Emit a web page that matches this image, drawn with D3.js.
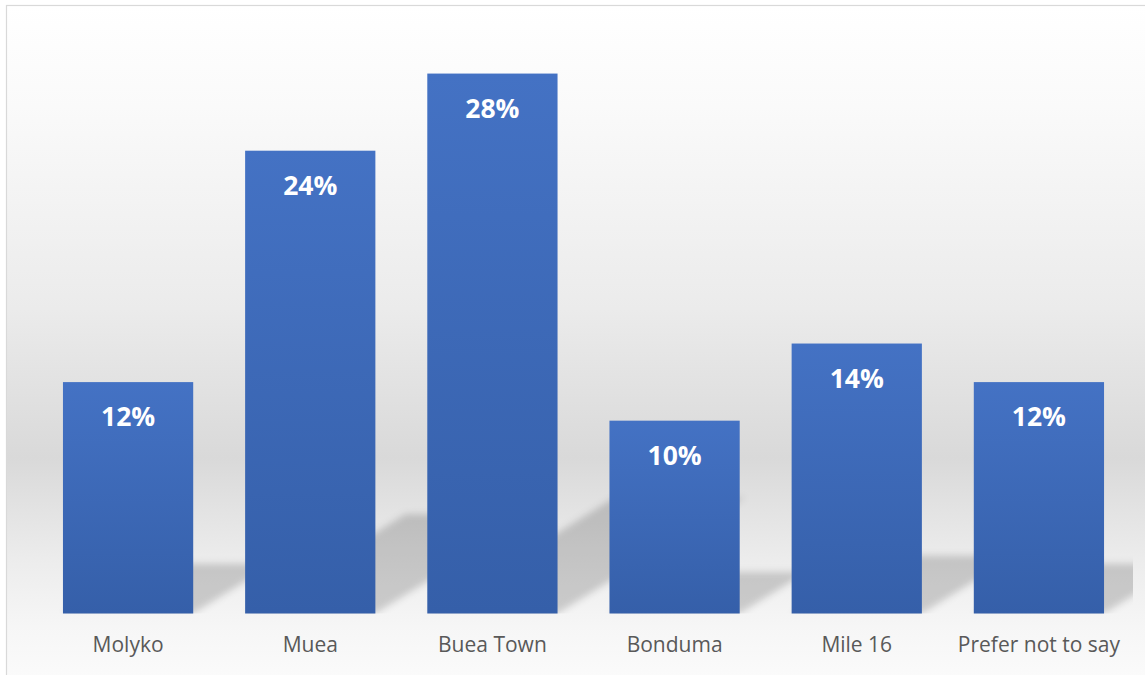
<!DOCTYPE html>
<html>
<head>
<meta charset="utf-8">
<script src="https://cdn.jsdelivr.net/npm/d3@7"></script>
<style>
  html, body { margin: 0; padding: 0; background: #ffffff; }
  svg { display: block; }
</style>
</head>
<body>
<svg id="chart" width="1145" height="675"></svg>
<script>
// Share of respondents by area of residence
const categories = ["Molyko", "Muea", "Buea Town", "Bonduma", "Mile 16", "Prefer not to say"];
const shares = [0.12, 0.24, 0.28, 0.10, 0.14, 0.12];
const shareLabels = ["12%", "24%", "28%", "10%", "14%", "12%"];

const W = 1145, H = 675;
const plot = { left: 37, right: 1130, top: 35, bottom: 613.5 };

const svg = d3.select("#chart");
const defs = svg.append("defs");

// Chart-area background: white at the top, grey band low in the plot, pale at the bottom
const bg = defs.append("linearGradient")
  .attr("id", "bgGrad").attr("x1", 0).attr("y1", 0).attr("x2", 0).attr("y2", 1);
[[0, "#ffffff"], [0.15, "#fafafa"], [0.45, "#ebebeb"], [0.67, "#d9d9d9"],
 [0.82, "#ececec"], [0.92, "#f6f6f6"], [1, "#fbfbfb"]]
  .forEach(([o, c]) => bg.append("stop").attr("offset", o).attr("stop-color", c));

// Bar fill: lighter blue at the top, deeper blue at the base
const barGrad = defs.append("linearGradient")
  .attr("id", "barGrad").attr("x1", 0).attr("y1", 0).attr("x2", 0).attr("y2", 1);
barGrad.append("stop").attr("offset", 0).attr("stop-color", "#4472c4");
barGrad.append("stop").attr("offset", 1).attr("stop-color", "#355fa9");

// Soft perspective shadow
const blur = defs.append("filter").attr("id", "shadowBlur")
  .attr("x", "-20%").attr("y", "-20%").attr("width", "140%").attr("height", "140%");
blur.append("feGaussianBlur").attr("stdDeviation", 3.5);

defs.append("clipPath").attr("id", "plotClip")
  .append("rect").attr("x", plot.left).attr("y", 0)
  .attr("width", 1133 - plot.left).attr("height", plot.bottom);

svg.append("rect")
  .attr("x", 6.5).attr("y", 5.5).attr("width", W).attr("height", H)
  .attr("fill", "url(#bgGrad)")
  .attr("stroke", "#d9d9d9").attr("stroke-width", 1.2);

const x = d3.scaleBand()
  .domain(categories)
  .range([plot.left, plot.right])
  .paddingInner(0.285)
  .paddingOuter(0.1425);

const y = d3.scaleLinear()
  .domain([0, 0.30])
  .range([plot.bottom, plot.top]);

const data = categories.map((c, i) => ({ cat: c, v: shares[i], label: shareLabels[i] }));

// Shadows cast up and to the right of each bar's base
svg.append("g").attr("clip-path", "url(#plotClip)")
  .selectAll("path").data(data).join("path")
  .attr("d", d => {
    const x0 = x(d.cat), x1 = x0 + x.bandwidth();
    const base = y(0);
    const h = base - y(d.v);
    const dy = h * 0.215, dx = dy / 0.62;
    return `M${x0},${base}L${x1},${base}L${x1 + dx},${base - dy}L${x0 + dx},${base - dy}Z`;
  })
  .attr("fill", "#000")
  .attr("fill-opacity", 0.17)
  .attr("filter", "url(#shadowBlur)");

svg.append("g").selectAll("rect").data(data).join("rect")
  .attr("x", d => x(d.cat))
  .attr("y", d => y(d.v))
  .attr("width", x.bandwidth())
  .attr("height", d => y(0) - y(d.v))
  .attr("fill", "url(#barGrad)");

svg.append("g").selectAll("text").data(data).join("text")
  .attr("x", d => x(d.cat) + x.bandwidth() / 2)
  .attr("y", d => y(d.v) + 44)
  .attr("text-anchor", "middle")
  .attr("font-family", "'Open Sans', 'Noto Sans', sans-serif")
  .attr("font-weight", 700)
  .attr("font-size", 26.5)
  .attr("fill", "#ffffff")
  .text(d => d.label);

// Category axis (labels only)
const xAxis = svg.append("g")
  .attr("transform", `translate(0,${plot.bottom})`)
  .call(d3.axisBottom(x).tickSize(0).tickPadding(24));
xAxis.select(".domain").remove();
xAxis.selectAll("text")
  .attr("font-family", "'Open Sans', 'Noto Sans', sans-serif")
  .attr("font-size", 21)
  .attr("fill", "#595959");
</script>
</body>
</html>
